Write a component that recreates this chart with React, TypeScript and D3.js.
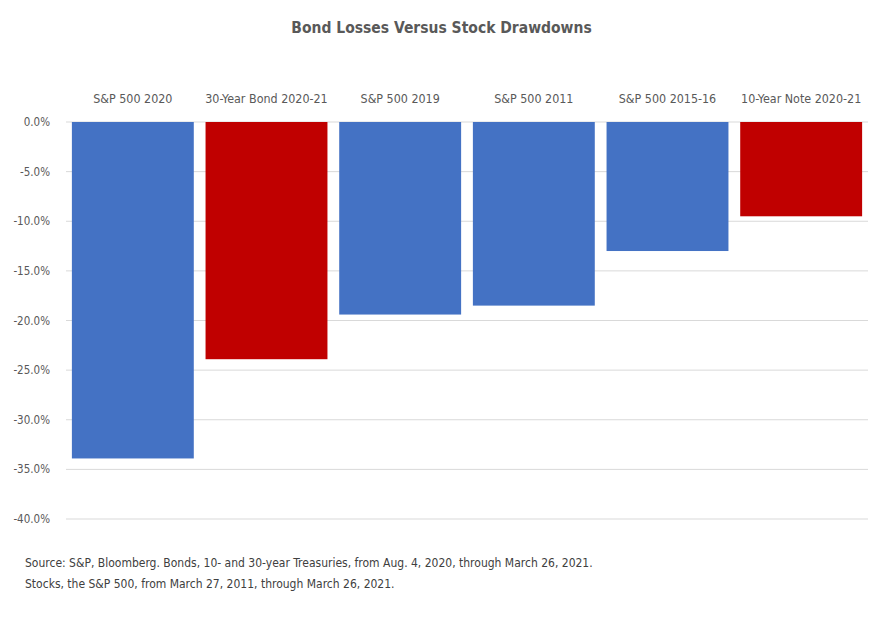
import React from "react";
import * as d3 from "d3";

const categories = [
  "S&P 500 2020",
  "30-Year Bond 2020-21",
  "S&P 500 2019",
  "S&P 500 2011",
  "S&P 500 2015-16",
  "10-Year Note 2020-21",
];
const values = [-33.9, -23.9, -19.4, -18.5, -13.0, -9.5];
const kinds = ["stock", "bond", "stock", "stock", "stock", "bond"];
const yTicks = [0, -5, -10, -15, -20, -25, -30, -35, -40];
const sourceLines = [
  "Source: S&P, Bloomberg. Bonds, 10- and 30-year Treasuries, from Aug. 4, 2020, through March 26, 2021.",
  "Stocks, the S&P 500, from March 27, 2011, through March 26, 2021.",
];

const width = 883;
const height = 629;
const font = "'DejaVu Sans Condensed', 'Liberation Sans Narrow', Roboto, sans-serif";
const colors: Record<string, string> = { stock: "#4472C4", bond: "#C00000" };

// d3.format puts a unicode minus; the original shows a plain hyphen
const fmt = (v: number) => d3.format(".1f")(v).replace("\u2212", "-") + "%";

export default function App() {
  const margin = { left: 66, right: 15, top: 122 };
  const plotBottom = 519;

  const x = d3
    .scaleBand<string>()
    .domain(categories)
    .range([margin.left, width - margin.right])
    .paddingInner(0.088)
    .paddingOuter(0.044);

  const y = d3.scaleLinear().domain([0, -40]).range([margin.top, plotBottom]);

  return (
    <svg
      width={width}
      height={height}
      style={{ position: "absolute", left: 0, top: 0, background: "#fff" }}
      fontFamily={font}
    >
      <text
        x={width / 2}
        y={33}
        textAnchor="middle"
        fontSize={15.5}
        fontWeight="bold"
        fill="#595959"
      >
        Bond Losses Versus Stock Drawdowns
      </text>

      {yTicks.map((t) => (
        <g key={t}>
          <line
            x1={margin.left}
            x2={width - margin.right}
            y1={y(t)}
            y2={y(t)}
            stroke="#d9d9d9"
            strokeWidth={1}
          />
          <text
            x={50}
            y={y(t)}
            dy="0.35em"
            textAnchor="end"
            fontSize={11.5}
            fill="#595959"
          >
            {fmt(t)}
          </text>
        </g>
      ))}

      {categories.map((c, i) => (
        <g key={c}>
          <rect
            x={x(c)}
            y={y(0)}
            width={x.bandwidth()}
            height={y(values[i]) - y(0)}
            fill={colors[kinds[i]]}
          />
          <text
            x={(x(c) ?? 0) + x.bandwidth() / 2}
            y={103}
            textAnchor="middle"
            fontSize={12.4}
            fill="#595959"
          >
            {c}
          </text>
        </g>
      ))}

      {sourceLines.map((s, i) => (
        <text key={i} x={25} y={567 + i * 21} fontSize={12} fill="#404040">
          {s}
        </text>
      ))}
    </svg>
  );
}
